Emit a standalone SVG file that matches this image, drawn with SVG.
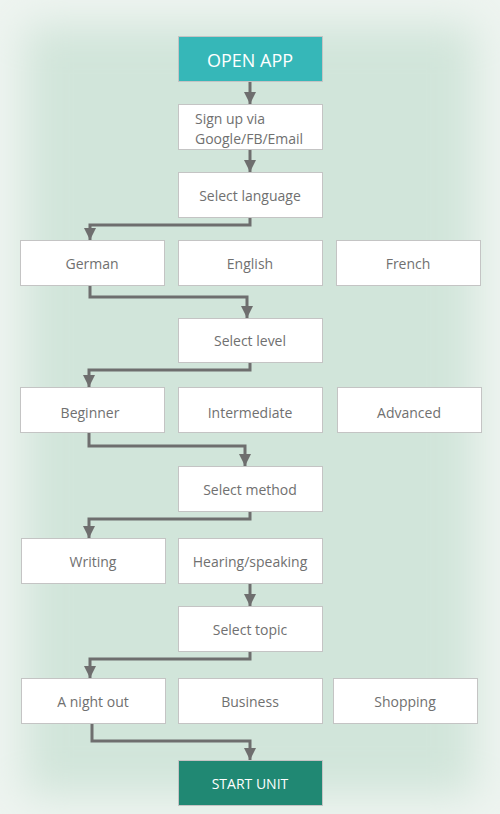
<svg xmlns="http://www.w3.org/2000/svg" width="500" height="814" viewBox="0 0 500 814">
<defs>
<filter id="blur" x="-20%" y="-20%" width="140%" height="140%"><feGaussianBlur stdDeviation="20"/></filter>
<marker id="arr" viewBox="0 0 10 10" refX="10" refY="5" markerWidth="4" markerHeight="4" markerUnits="strokeWidth" orient="auto"><path d="M0,0 L10,5 L0,10 z" fill="#6e6e6e"/></marker>
<style>
.n{fill:#fff;stroke:#c4c4c4;stroke-width:1}
.t{font-family:"Open Sans","Noto Sans",sans-serif;font-size:14px;fill:#707070;text-anchor:middle}
.w{font-family:"Open Sans","Noto Sans",sans-serif;fill:#fff;text-anchor:middle}
.c{fill:none;stroke:#6e6e6e;stroke-width:3;marker-end:url(#arr)}
</style>
</defs>
<rect width="500" height="814" fill="#eef4f0"/>
<rect x="25" y="25" width="450" height="770" fill="#d1e5da" filter="url(#blur)"/>
<g id="connectors">
<path class="c" d="M250,82 V104"/>
<path class="c" d="M250,150 V172"/>
<path class="c" d="M250,217 V225 H90 V240"/>
<path class="c" d="M90,286 V297 H247 V318"/>
<path class="c" d="M250,363 V370 H89 V387"/>
<path class="c" d="M89,433 V446 H245 V466"/>
<path class="c" d="M250,512 V519 H89 V538"/>
<path class="c" d="M250,584 V606"/>
<path class="c" d="M250,652 V659 H90 V678"/>
<path class="c" d="M92,724 V741 H250 V760"/>
</g>
<g id="open-app"><rect x="178.5" y="36.5" width="144" height="45" fill="#36b7b8" stroke="#c4c4c4"/><text class="w" x="250" y="67" font-size="18">OPEN APP</text></g>
<g id="sign-up"><rect class="n" x="178.5" y="104.5" width="144" height="45"/><text class="t" x="195" y="124" style="text-anchor:start">Sign up via</text><text class="t" x="195" y="144" style="text-anchor:start">Google/FB/Email</text></g>
<g id="select-language"><rect class="n" x="178.5" y="172.5" width="144" height="45"/><text class="t" x="250" y="201">Select language</text></g>
<g id="german"><rect class="n" x="20.5" y="240.5" width="144" height="45"/><text class="t" x="92" y="269">German</text></g>
<g id="english"><rect class="n" x="178.5" y="240.5" width="144" height="45"/><text class="t" x="250" y="269">English</text></g>
<g id="french"><rect class="n" x="336.5" y="240.5" width="144" height="45"/><text class="t" x="408" y="269">French</text></g>
<g id="select-level"><rect class="n" x="178.5" y="318.5" width="144" height="44"/><text class="t" x="250" y="346">Select level</text></g>
<g id="beginner"><rect class="n" x="20.5" y="387.5" width="144" height="45"/><text class="t" x="90" y="418">Beginner</text></g>
<g id="intermediate"><rect class="n" x="178.5" y="387.5" width="144" height="45"/><text class="t" x="250" y="418">Intermediate</text></g>
<g id="advanced"><rect class="n" x="337.5" y="387.5" width="144" height="45"/><text class="t" x="409" y="418">Advanced</text></g>
<g id="select-method"><rect class="n" x="178.5" y="466.5" width="144" height="45"/><text class="t" x="250" y="495">Select method</text></g>
<g id="writing"><rect class="n" x="21.5" y="538.5" width="144" height="45"/><text class="t" x="93" y="567">Writing</text></g>
<g id="hearing-speaking"><rect class="n" x="178.5" y="538.5" width="144" height="45"/><text class="t" x="250" y="567">Hearing/speaking</text></g>
<g id="select-topic"><rect class="n" x="178.5" y="606.5" width="144" height="45"/><text class="t" x="250" y="635">Select topic</text></g>
<g id="a-night-out"><rect class="n" x="21.5" y="678.5" width="144" height="45"/><text class="t" x="93" y="707">A night out</text></g>
<g id="business"><rect class="n" x="178.5" y="678.5" width="144" height="45"/><text class="t" x="250" y="707">Business</text></g>
<g id="shopping"><rect class="n" x="333.5" y="678.5" width="144" height="45"/><text class="t" x="405" y="707">Shopping</text></g>
<g id="start-unit"><rect x="178.5" y="760.5" width="144" height="45" fill="#208873" stroke="#c4c4c4"/><text class="w" x="250" y="789" font-size="14">START UNIT</text></g>
</svg>
